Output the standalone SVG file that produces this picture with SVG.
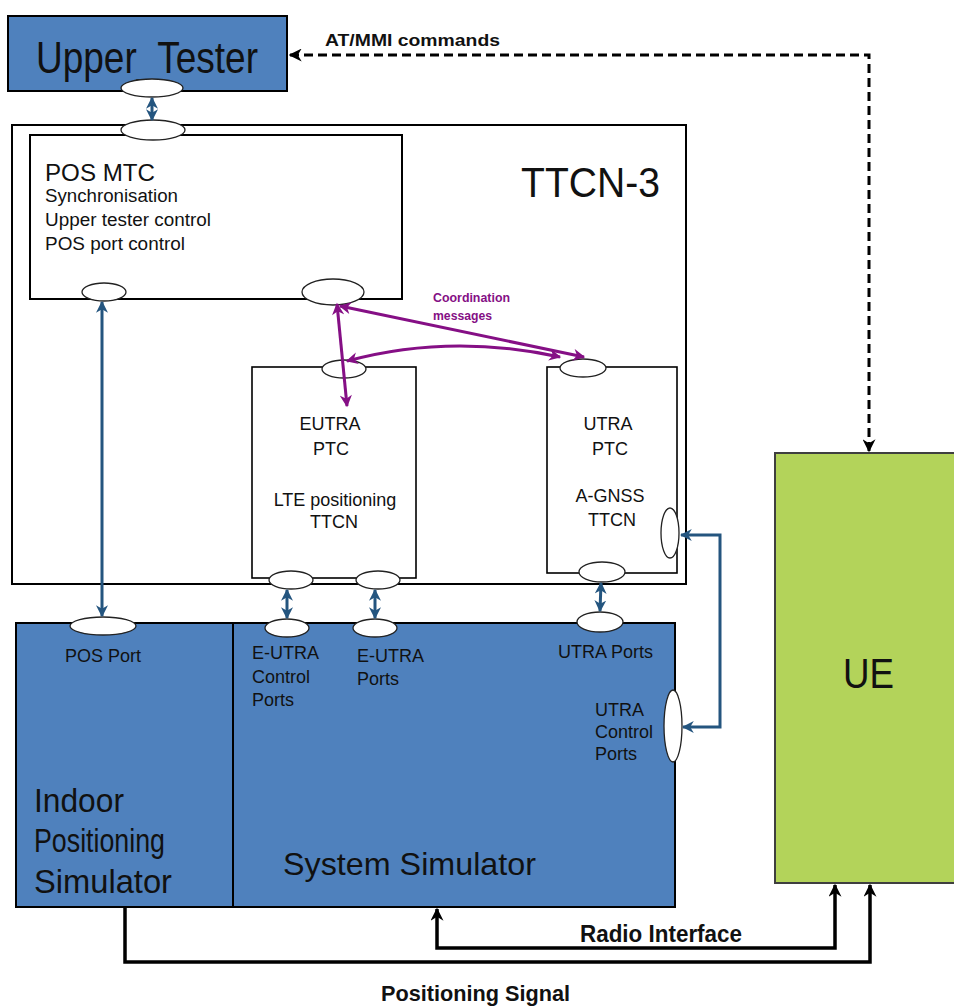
<svg xmlns="http://www.w3.org/2000/svg" width="954" height="1006" viewBox="0 0 954 1006">
<defs>
<style>
.t{font-family:"Liberation Sans",Arial,sans-serif;fill:#111}
.b{font-weight:bold}
.box{stroke:#000;stroke-width:2}
.blue{fill:#4F81BD}
.wbox{fill:#fff;stroke:#000;stroke-width:2}
.port{fill:#fff;stroke:#222;stroke-width:1.3}
.ba{fill:none;stroke:#24557F;stroke-width:3}
.pa{fill:none;stroke:#850F85;stroke-width:3}
.ka{fill:none;stroke:#000;stroke-width:3.5}
</style>
<marker id="mb" viewBox="0 0 10 10" refX="9" refY="5" markerWidth="12" markerHeight="12" markerUnits="userSpaceOnUse" orient="auto-start-reverse"><path d="M0,0 L10,5 L0,10 L3,5 z" fill="#24557F"/></marker>
<marker id="mp" viewBox="0 0 10 10" refX="9" refY="5" markerWidth="14" markerHeight="12" markerUnits="userSpaceOnUse" orient="auto-start-reverse"><path d="M0,0 L10,5 L0,10 L3,5 z" fill="#850F85"/></marker>
<marker id="mk" viewBox="0 0 10 10" refX="9" refY="5" markerWidth="13" markerHeight="13" markerUnits="userSpaceOnUse" orient="auto-start-reverse"><path d="M0,0 L10,5 L0,10 L3,5 z" fill="#000"/></marker>
</defs>

<g id="upper-tester">
<rect class="box blue" x="8" y="16" width="279" height="75"/>
<text class="t" x="36" y="73" font-size="45" textLength="222" lengthAdjust="spacingAndGlyphs">Upper_Tester</text>
<ellipse class="port" cx="152" cy="88" rx="31" ry="9"/>
</g>

<g id="ttcn3">
<rect class="wbox" x="12" y="125" width="674" height="459"/>
<text class="t" x="521" y="197" font-size="43" textLength="139" lengthAdjust="spacingAndGlyphs">TTCN-3</text>
</g>

<g id="pos-mtc">
<rect class="wbox" x="30" y="135" width="372" height="164"/>
<text class="t" x="45" y="181" font-size="24" textLength="110" lengthAdjust="spacingAndGlyphs">POS MTC</text>
<text class="t" x="45" y="202" font-size="18" textLength="133" lengthAdjust="spacingAndGlyphs">Synchronisation</text>
<text class="t" x="45" y="226" font-size="18" textLength="166" lengthAdjust="spacingAndGlyphs">Upper tester control</text>
<text class="t" x="45" y="250" font-size="18" textLength="140" lengthAdjust="spacingAndGlyphs">POS port control</text>
<ellipse class="port" cx="153" cy="130" rx="32" ry="10"/>
<ellipse class="port" cx="104" cy="292" rx="22" ry="9"/>
<ellipse class="port" cx="333" cy="292" rx="31" ry="13"/>
</g>

<g id="eutra-ptc">
<rect class="wbox" x="252" y="367" width="164" height="211" style="stroke-width:1.6"/>
<g class="t" font-size="18" text-anchor="middle">
<text x="330" y="430">EUTRA</text>
<text x="331" y="455">PTC</text>
<text x="335" y="506">LTE positioning</text>
<text x="334" y="528">TTCN</text>
</g>
<ellipse class="port" cx="344" cy="369" rx="22" ry="9"/>
<ellipse class="port" cx="291" cy="580" rx="22" ry="9"/>
<ellipse class="port" cx="378" cy="580" rx="22" ry="9"/>
</g>

<g id="utra-ptc">
<rect class="wbox" x="547" y="367" width="130" height="206" style="stroke-width:1.6"/>
<g class="t" font-size="18" text-anchor="middle">
<text x="608" y="430">UTRA</text>
<text x="610" y="455">PTC</text>
<text x="610" y="502">A-GNSS</text>
<text x="612" y="526">TTCN</text>
</g>
<ellipse class="port" cx="583" cy="368" rx="23" ry="9"/>
<ellipse class="port" cx="670" cy="533" rx="9" ry="25"/>
<ellipse class="port" cx="602" cy="572" rx="23" ry="10"/>
</g>

<g id="indoor-positioning-simulator">
<rect class="box blue" x="16" y="623" width="217" height="284"/>
<ellipse class="port" cx="103" cy="626" rx="33" ry="9"/>
<text class="t" x="65" y="662" font-size="18">POS Port</text>
<g class="t" font-size="33">
<text x="34" y="812" textLength="90" lengthAdjust="spacingAndGlyphs">Indoor</text>
<text x="34" y="852" textLength="131" lengthAdjust="spacingAndGlyphs">Positioning</text>
<text x="34" y="893" textLength="138" lengthAdjust="spacingAndGlyphs">Simulator</text>
</g>
</g>

<g id="system-simulator">
<rect class="box blue" x="233" y="623" width="442" height="284"/>
<ellipse class="port" cx="287" cy="628" rx="22" ry="9"/>
<ellipse class="port" cx="375" cy="628" rx="22" ry="9"/>
<ellipse class="port" cx="600" cy="622" rx="23" ry="10"/>
<ellipse class="port" cx="673" cy="726" rx="9" ry="36"/>
<g class="t" font-size="18">
<text x="252" y="659">E-UTRA</text>
<text x="252" y="683">Control</text>
<text x="252" y="706">Ports</text>
<text x="357" y="662">E-UTRA</text>
<text x="357" y="685">Ports</text>
<text x="558" y="658">UTRA Ports</text>
<text x="595" y="716">UTRA</text>
<text x="595" y="738">Control</text>
<text x="595" y="760">Ports</text>
</g>
<text class="t" x="283" y="875" font-size="32" textLength="253" lengthAdjust="spacingAndGlyphs">System Simulator</text>
</g>

<g id="ue">
<rect x="775" y="453" width="190" height="430" fill="#B3D35A" stroke="#3f3f3f" stroke-width="2"/>
<text class="t" x="843" y="688" font-size="42" textLength="51" lengthAdjust="spacingAndGlyphs">UE</text>
</g>

<g id="connectors">
<line class="ba" x1="152" y1="98" x2="152" y2="120" marker-start="url(#mb)" marker-end="url(#mb)"/>
<line class="ba" x1="102" y1="302" x2="102" y2="616" marker-start="url(#mb)" marker-end="url(#mb)"/>
<line class="ba" x1="287" y1="590" x2="287" y2="618" marker-start="url(#mb)" marker-end="url(#mb)"/>
<line class="ba" x1="375" y1="590" x2="375" y2="618" marker-start="url(#mb)" marker-end="url(#mb)"/>
<line class="ba" x1="601" y1="583" x2="600" y2="611" marker-start="url(#mb)" marker-end="url(#mb)"/>
<path class="ba" d="M681,535 H720 V727 H683" marker-start="url(#mb)" marker-end="url(#mb)"/>
<line class="pa" x1="337" y1="304" x2="347" y2="406" marker-start="url(#mp)" marker-end="url(#mp)"/>
<line class="pa" x1="340" y1="306" x2="584" y2="357" marker-start="url(#mp)" marker-end="url(#mp)"/>
<path class="pa" d="M347,361 Q450,333 560,357" marker-start="url(#mp)" marker-end="url(#mp)"/>
<g class="t b" font-size="12" style="fill:#850F85">
<text x="433" y="302" textLength="77" lengthAdjust="spacingAndGlyphs">Coordination</text>
<text x="433" y="320" textLength="59" lengthAdjust="spacingAndGlyphs">messages</text>
</g>
<path d="M869,451 V55 H290" fill="none" stroke="#000" stroke-width="3" stroke-dasharray="9,5" marker-start="url(#mk)" marker-end="url(#mk)"/>
<text class="t b" x="325" y="46" font-size="17" textLength="175" lengthAdjust="spacingAndGlyphs">AT/MMI  commands</text>
<path class="ka" d="M437,909 V948 H835 V885" marker-start="url(#mk)" marker-end="url(#mk)"/>
<text class="t b" x="580" y="942" font-size="23" textLength="162" lengthAdjust="spacingAndGlyphs">Radio Interface</text>
<path class="ka" d="M125,907 V962 H870 V885" marker-end="url(#mk)"/>
<text class="t b" x="381" y="1001" font-size="22" textLength="189" lengthAdjust="spacingAndGlyphs">Positioning Signal</text>
</g>
</svg>
